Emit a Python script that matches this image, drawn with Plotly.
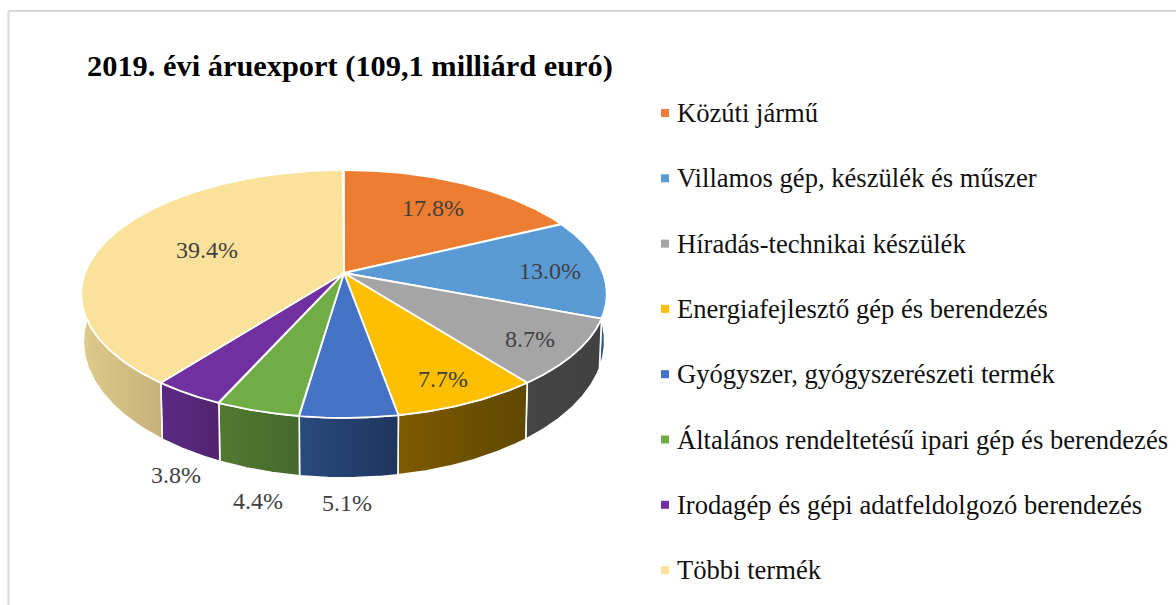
import numpy as np
import plotly.graph_objects as go

TITLE = "2019. évi áruexport (109,1 milliárd euró)"
CATEGORIES = ["Közúti jármű", "Villamos gép, készülék és műszer", "Híradás-technikai készülék",
              "Energiafejlesztő gép és berendezés", "Gyógyszer, gyógyszerészeti termék",
              "Általános rendeltetésű ipari gép és berendezés",
              "Irodagép és gépi adatfeldolgozó berendezés", "Többi termék"]
SHARES = [17.8, 13.0, 8.7, 7.7, 5.1, 4.4, 3.8, 39.4]
TOP_COLORS = ["#ED7D31", "#5B9BD5", "#A5A5A5", "#FDBF00", "#4472C4", "#70AD47", "#7030A0", "#FBE29A"]
WALL_COLORS = [("#8a4a1e", "#8a4a1e"), ("#2f6494", "#2a5680"), ("#444444", "#414141"), ("#7d5a00", "#5f4800"),
               ("#294a7c", "#1f355f"), ("#52792f", "#446a2c"), ("#5c2a84", "#50246e"), ("#dfcb8c", "#c6b179")]
LABEL_POS = [(433, 208), (550, 271), (530, 339), (443, 379), (347, 503), (258, 501), (176, 475), (207, 250)]

FONT = "Liberation Serif"
CX, CY, A, B, PERSP = 344.0, 273.0, 259.0, 120.4, 0.169
DEPTH, DEPTH_K, XK = 45.0, 0.103, 0.992


def top(theta):
    w = 1 + PERSP * np.cos(theta)
    return CX + A * np.sin(theta) / w, CY - B * np.cos(theta) / w


def bottom(theta):
    x, y = top(theta)
    return CX + XK * (x - CX), y + DEPTH + DEPTH_K * (y - CY)


fig = go.Figure()
edges = np.radians(np.concatenate([[0], np.cumsum(SHARES)]) * 3.6)
lo, hi = np.radians(85), np.radians(275)

for i in range(len(SHARES)):
    a, b = max(edges[i], lo), min(edges[i + 1], hi)
    if b <= a:
        continue
    th = np.linspace(a, b, 80)
    xt, yt = top(th)
    xb, yb = bottom(th)
    fig.add_trace(go.Scatter(
        x=np.r_[xt, xb[::-1], xt[0]], y=np.r_[yt, yb[::-1], yt[0]], mode="lines",
        line=dict(color="white", width=1.6), fill="toself",
        fillgradient=dict(type="horizontal", colorscale=[[0, WALL_COLORS[i][0]], [1, WALL_COLORS[i][1]]]),
        hoverinfo="skip", showlegend=False))

for i, c in enumerate(TOP_COLORS):
    th = np.linspace(edges[i], edges[i + 1], 200)
    xt, yt = top(th)
    fig.add_trace(go.Scatter(
        x=np.r_[CX, xt, CX], y=np.r_[CY, yt, CY], mode="lines",
        line=dict(color="white", width=1.8), fill="toself", fillcolor=c,
        name=CATEGORIES[i], hoverinfo="name", showlegend=False))

LEG_X, LEG_Y0, LEG_DY = 665, 113, 65.3
leg_y = [LEG_Y0 + LEG_DY * i for i in range(len(CATEGORIES))]
fig.add_trace(go.Scatter(x=[LEG_X] * len(CATEGORIES), y=leg_y, mode="markers",
                         marker=dict(symbol="square", size=8, color=TOP_COLORS),
                         hoverinfo="skip", showlegend=False))
for name, y in zip(CATEGORIES, leg_y):
    fig.add_annotation(x=674.5, y=y, text=name, showarrow=False, xanchor="left", yanchor="middle",
                       font=dict(family=FONT, size=26.6, color="#111111"))
for s, (x, y) in zip(SHARES, LABEL_POS):
    fig.add_annotation(x=x, y=y, text=f"{s:.1f}%", showarrow=False, xanchor="center", yanchor="middle",
                       font=dict(family=FONT, size=24, color="#404040"))

fig.add_shape(type="line", x0=8.5, x1=8.5, y0=11, y1=605, line=dict(color="#d9d9d9", width=2))
fig.add_shape(type="line", x0=8.5, x1=1176, y0=11, y1=11, line=dict(color="#d9d9d9", width=2))

fig.update_layout(
    width=1176, height=605, margin=dict(l=0, r=0, t=0, b=0),
    paper_bgcolor="white", plot_bgcolor="white", showlegend=False,
    title=dict(text=f"<b>{TITLE}</b>", x=87 / 1176, xanchor="left", y=1 - 65 / 605, yanchor="middle",
               font=dict(family=FONT, size=30.4, color="black")),
    xaxis=dict(range=[0, 1176], visible=False, fixedrange=True),
    yaxis=dict(range=[605, 0], visible=False, fixedrange=True),
)
fig.write_html("out.html", config={"displayModeBar": False},
               post_script='document.body.style.margin="0";document.documentElement.style.overflow="hidden";')
